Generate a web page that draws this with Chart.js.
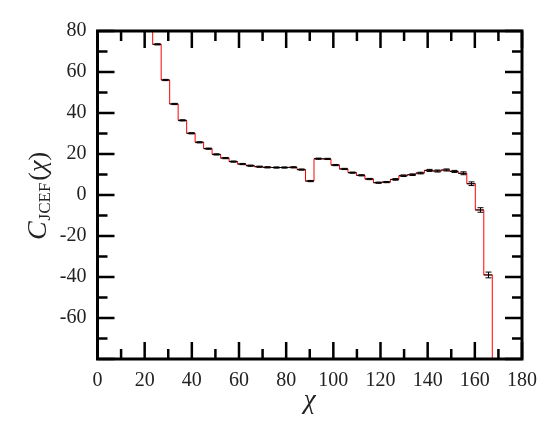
<!DOCTYPE html>
<html>
<head>
<meta charset="utf-8">
<script src="https://cdn.jsdelivr.net/npm/chart.js@4.4.0/dist/chart.umd.min.js"></script>
<style>
  html, body { margin: 0; padding: 0; background: #fff; }
</style>
</head>
<body>
<canvas id="chart" width="556" height="438"></canvas>
<script>
// bin centres (chi, degrees), bin width 3.6
const binWidth = 3.6;
const binCenters = [21.6, 25.2, 28.8, 32.4, 36.0, 39.6, 43.2, 46.8, 50.4, 54.0,
  57.6, 61.2, 64.8, 68.4, 72.0, 75.6, 79.2, 82.8, 86.4, 90.0,
  93.6, 97.2, 100.8, 104.4, 108.0, 111.6, 115.2, 118.8, 122.4, 126.0,
  129.6, 133.2, 136.8, 140.4, 144.0, 147.6, 151.2, 154.8, 158.4, 162.0,
  165.6, 169.2];
// C_JCEF values per bin (first and last bins run off the plot)
const cValues = [100, 73.5, 56.1, 44.4, 36.4, 30.1, 25.7, 22.6, 19.8, 18.0,
  16.3, 15.1, 14.3, 13.8, 13.5, 13.4, 13.4, 13.5, 12.4, 6.8,
  17.7, 17.6, 14.6, 12.7, 10.9, 9.6, 7.8, 6.0, 6.3, 7.6,
  9.4, 9.9, 10.7, 12.0, 11.7, 12.2, 11.5, 10.6, 5.5, -7.3,
  -39.0, -110];
// statistical errors per bin
const cErrors = [0.3, 0.3, 0.3, 0.3, 0.3, 0.3, 0.3, 0.3, 0.3, 0.3,
  0.3, 0.3, 0.3, 0.3, 0.3, 0.3, 0.3, 0.3, 0.3, 0.3,
  0.3, 0.3, 0.3, 0.3, 0.3, 0.3, 0.3, 0.3, 0.3, 0.4,
  0.4, 0.4, 0.4, 0.5, 0.5, 0.5, 0.5, 0.7, 0.9, 1.1,
  1.4, 2.0];

const xTicks = [0, 20, 40, 60, 80, 100, 120, 140, 160, 180];
const yTicks = [-80, -60, -40, -20, 0, 20, 40, 60, 80];
const minorStepX = 10;
const minorStepY = 10;

const serif = "'Liberation Serif', 'DejaVu Serif', serif";

// red step line: one point per bin at its left edge, closed at the last right edge
const stepData = binCenters.map((c, i) => ({ x: c - binWidth / 2, y: cValues[i] }));
stepData.push({ x: binCenters[binCenters.length - 1] + binWidth / 2, y: cValues[cValues.length - 1] });

// black horizontal segment per bin, with gaps between bins
const barData = [];
binCenters.forEach((c, i) => {
  barData.push({ x: c - binWidth / 2, y: cValues[i] });
  barData.push({ x: c + binWidth / 2, y: cValues[i] });
  barData.push({ x: c + binWidth / 2, y: null });
});

const errorBars = {
  id: 'errorBars',
  afterDatasetsDraw(chart) {
    const { ctx, chartArea: a, scales: { x, y } } = chart;
    ctx.save();
    ctx.beginPath();
    ctx.rect(a.left, a.top, a.width, a.height);
    ctx.clip();
    ctx.strokeStyle = '#000';
    ctx.lineWidth = 1;
    ctx.beginPath();
    binCenters.forEach((c, i) => {
      const px = Math.round(x.getPixelForValue(c)) + 0.5;
      const y1 = y.getPixelForValue(cValues[i] + cErrors[i]);
      const y2 = y.getPixelForValue(cValues[i] - cErrors[i]);
      ctx.moveTo(px, y1); ctx.lineTo(px, y2);
      ctx.moveTo(px - 3, y1); ctx.lineTo(px + 3, y1);
      ctx.moveTo(px - 3, y2); ctx.lineTo(px + 3, y2);
    });
    ctx.stroke();
    ctx.restore();
  }
};

const frame = {
  id: 'frame',
  afterDraw(chart) {
    const { ctx, chartArea: a, scales: { x, y } } = chart;
    ctx.save();
    ctx.strokeStyle = '#000';
    ctx.lineWidth = 2.5;
    ctx.beginPath();
    for (let v = xTicks[0]; v <= xTicks[xTicks.length - 1]; v += minorStepX) {
      const px = x.getPixelForValue(v);
      const len = xTicks.includes(v) ? 17 : 10;
      ctx.moveTo(px, a.bottom); ctx.lineTo(px, a.bottom - len);
      ctx.moveTo(px, a.top); ctx.lineTo(px, a.top + len);
    }
    for (let v = yTicks[0]; v <= yTicks[yTicks.length - 1]; v += minorStepY) {
      const py = y.getPixelForValue(v);
      const len = yTicks.includes(v) ? 17 : 10;
      ctx.moveTo(a.left, py); ctx.lineTo(a.left + len, py);
      ctx.moveTo(a.right, py); ctx.lineTo(a.right - len, py);
    }
    ctx.stroke();
    ctx.lineWidth = 3;
    ctx.strokeRect(a.left, a.top, a.width, a.height);

    // axis titles
    ctx.fillStyle = '#222';
    ctx.textBaseline = 'middle';
    ctx.textAlign = 'center';
    ctx.font = 'italic 27px ' + serif;
    ctx.fillText('\u03C7', (a.left + a.right) / 2, 401);

    // y title: C_JCEF(chi), rotated
    ctx.translate(46, 196);
    ctx.rotate(-Math.PI / 2);
    ctx.textAlign = 'left';
    ctx.textBaseline = 'alphabetic';
    const fC = 'italic 28px ' + serif;
    const fSub = '17px ' + serif;
    const fPar = '26px ' + serif;
    const fChi = 'italic 26px ' + serif;
    ctx.font = fC; const wC = ctx.measureText('C').width;
    ctx.font = fSub; const wS = ctx.measureText('JCEF').width;
    ctx.font = fPar; const wP = ctx.measureText('(').width;
    ctx.font = fChi; const wX = ctx.measureText('\u03C7').width;
    let cx = -(wC + wS + 2 * wP + wX + 3) / 2;
    const base = 0;
    ctx.font = fC; ctx.fillText('C', cx, base); cx += wC + 1;
    ctx.font = fSub; ctx.fillText('JCEF', cx, base + 4); cx += wS + 2;
    ctx.font = fPar; ctx.fillText('(', cx, base); cx += wP;
    ctx.font = fChi; ctx.fillText('\u03C7', cx, base); cx += wX;
    ctx.font = fPar; ctx.fillText(')', cx, base);
    ctx.restore();
  }
};

new Chart(document.getElementById('chart'), {
  type: 'line',
  data: {
    datasets: [
      {
        label: 'data',
        data: barData,
        borderColor: '#000',
        borderWidth: 1,
        pointRadius: 0,
        spanGaps: false,
        fill: false,
        order: 0
      },
      {
        label: 'model',
        data: stepData,
        borderColor: '#ff0000',
        borderWidth: 1,
        pointRadius: 0,
        stepped: 'before',
        fill: false,
        order: 1
      }
    ]
  },
  options: {
    responsive: false,
    animation: false,
    events: [],
    layout: { padding: { top: 31, right: 34, left: 0, bottom: 0 } },
    plugins: {
      legend: { display: false },
      tooltip: { enabled: false }
    },
    scales: {
      x: {
        type: 'linear',
        min: xTicks[0],
        max: xTicks[xTicks.length - 1],
        afterBuildTicks: (s) => { s.ticks = xTicks.map(v => ({ value: v })); },
        afterFit: (s) => { s.height = 79; },
        grid: { display: false, drawTicks: false },
        border: { display: false },
        ticks: {
          padding: 10,
          color: '#222',
          maxRotation: 0,
          font: { family: serif, size: 20 }
        }
      },
      y: {
        type: 'linear',
        min: yTicks[0],
        max: yTicks[yTicks.length - 1],
        afterBuildTicks: (s) => { s.ticks = yTicks.map(v => ({ value: v })); },
        afterFit: (s) => { s.width = 97.5; },
        grid: { display: false, drawTicks: false },
        border: { display: false },
        ticks: {
          padding: 11,
          color: '#222',
          font: { family: serif, size: 20 },
          callback: (v) => (v === yTicks[0] ? '' : v)
        }
      }
    }
  },
  plugins: [errorBars, frame]
});
</script>
</body>
</html>
